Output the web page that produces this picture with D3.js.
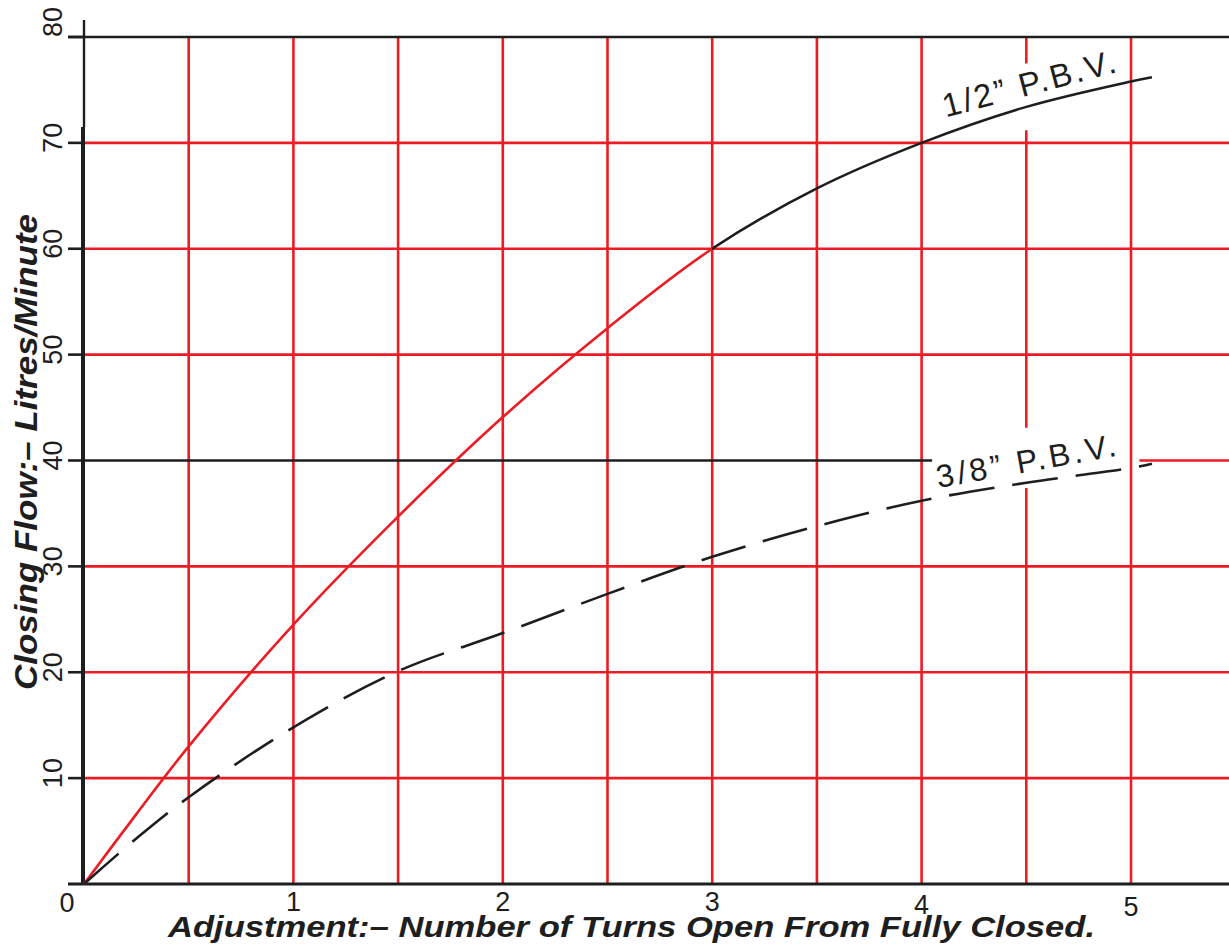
<!DOCTYPE html>
<html>
<head>
<meta charset="utf-8">
<script src="https://cdn.jsdelivr.net/npm/d3@7"></script>
<style>
  html, body { margin: 0; padding: 0; background: #fff; }
  svg { display: block; }
</style>
</head>
<body>
<script>
// turns open vs closing flow (litres/minute)
const turns = [0, 0.25, 0.5, 1, 1.5, 2, 2.5, 3, 3.5, 4, 4.5, 5, 5.1];
const halfInch = [0, 6.6, 13, 24.5, 34.7, 44.1, 52.5, 60, 65.7, 70, 73.4, 75.8, 76.2];
const threeEighths = [0, 4.3, 8.2, 14.8, 20.1, 23.7, 27.4, 30.9, 33.8, 36.2, 37.9, 39.3, 39.7];

const xTicks = [0, 1, 2, 3, 4, 5];
const yTicks = [10, 20, 30, 40, 50, 60, 70, 80];
const xGrid = [0.5, 1, 1.5, 2, 2.5, 3, 3.5, 4, 4.5, 5];
const yGridRed = [10, 20, 30, 50, 60, 70];

const xTitle = "Adjustment:\u2013 Number of Turns Open From Fully Closed.";
const yTitle = "Closing Flow:\u2013 Litres/Minute";
const seriesNames = ["1/2\u201d P.B.V.", "3/8\u201d P.B.V."];

const W = 1229, H = 945;
const RED = "#ec1c24", INK = "#1e1e1e";

const x = d3.scaleLinear().domain([0, 5]).range([84, 1131]);
const y = d3.scaleLinear().domain([0, 80]).range([884, 37]);

const svg = d3.select("body").append("svg")
  .attr("width", W).attr("height", H);

const defs = svg.append("defs");
defs.append("clipPath").attr("id", "leftPart")
  .append("rect").attr("x", 0).attr("y", 0).attr("width", x(3)).attr("height", H);
defs.append("clipPath").attr("id", "rightPart")
  .append("rect").attr("x", x(3)).attr("y", 0).attr("width", W - x(3)).attr("height", H);

const grid = svg.append("g").attr("stroke-width", 2.6).attr("fill", "none");

// vertical red grid, the 4.5 line is broken where the labels sit
const vGaps = { 4.5: [[77.5, 71.2], [43.1, 37.4]] };
xGrid.forEach(v => {
  let spans = [[80, 0]];
  (vGaps[v] || []).forEach(([a, b]) => {
    const last = spans.pop();
    spans.push([last[0], a], [b, last[1]]);
  });
  spans.forEach(([a, b]) => {
    grid.append("line")
      .attr("x1", x(v)).attr("x2", x(v))
      .attr("y1", y(a)).attr("y2", y(b))
      .attr("stroke", RED);
  });
});

// horizontal red grid
grid.selectAll(".hred")
  .data(yGridRed)
  .join("line")
  .attr("x1", x(0)).attr("x2", W)
  .attr("y1", d => y(d)).attr("y2", d => y(d))
  .attr("stroke", RED);

// 80 line black, 40 line black then red after the label
grid.append("line")
  .attr("x1", x(0) - 16).attr("x2", W)
  .attr("y1", y(80)).attr("y2", y(80))
  .attr("stroke", INK);
grid.append("line")
  .attr("x1", x(0)).attr("x2", x(4.05))
  .attr("y1", y(40)).attr("y2", y(40))
  .attr("stroke", INK);
grid.append("line")
  .attr("x1", x(5.04)).attr("x2", W)
  .attr("y1", y(40)).attr("y2", y(40))
  .attr("stroke", RED);

// axes
const axes = svg.append("g").attr("stroke", INK);
axes.append("line")
  .attr("x1", x(0)).attr("x2", x(0))
  .attr("y1", 20).attr("y2", y(71.5))
  .attr("stroke-width", 2.4);
axes.append("line")
  .attr("x1", x(0) - 1).attr("x2", x(0) - 1)
  .attr("y1", y(71.5)).attr("y2", y(0) + 1)
  .attr("stroke-width", 4);
axes.append("line")
  .attr("x1", x(0) - 16).attr("x2", W)
  .attr("y1", y(0)).attr("y2", y(0))
  .attr("stroke-width", 3.2);
axes.selectAll(".tick")
  .data(yTicks)
  .join("line")
  .attr("x1", x(0) - 16).attr("x2", x(0))
  .attr("y1", d => y(d)).attr("y2", d => y(d))
  .attr("stroke-width", 2.6);

// curves
const line = d3.line()
  .x(d => x(d[0]))
  .y(d => y(d[1]))
  .curve(d3.curveCatmullRom.alpha(0.5));

const half = turns.map((t, i) => [t, halfInch[i]]);
const eighth = turns.map((t, i) => [t, threeEighths[i]]);

svg.append("path")
  .attr("d", line(half))
  .attr("fill", "none").attr("stroke", RED).attr("stroke-width", 2.6)
  .attr("clip-path", "url(#leftPart)");
svg.append("path")
  .attr("d", line(half))
  .attr("fill", "none").attr("stroke", INK).attr("stroke-width", 2.6)
  .attr("clip-path", "url(#rightPart)");
svg.append("path")
  .attr("d", line(eighth))
  .attr("fill", "none").attr("stroke", INK).attr("stroke-width", 2.6)
  .attr("stroke-dasharray", "46 18");

// tick labels
const tickFont = "'Liberation Sans', Arial, sans-serif";
svg.append("g")
  .selectAll("text")
  .data(yTicks)
  .join("text")
  .attr("transform", d => `translate(62, ${d === 80 ? y(d) : y(d) - 5}) rotate(-90)`)
  .attr("text-anchor", d => d === 80 ? "start" : "middle")
  .attr("font-family", tickFont)
  .attr("font-size", 27)
  .attr("fill", INK)
  .text(d => d);

const xLabelDrop = { 0: 912, 1: 911, 2: 911, 3: 911, 4: 914, 5: 916 };
svg.append("g")
  .selectAll("text")
  .data(xTicks)
  .join("text")
  .attr("x", d => d === 0 ? x(0) - 17 : x(d))
  .attr("y", d => xLabelDrop[d])
  .attr("text-anchor", "middle")
  .attr("font-family", tickFont)
  .attr("font-size", 27)
  .attr("fill", INK)
  .text(d => d);

// axis titles
const titleFont = "'Liberation Sans', 'DejaVu Sans', sans-serif";
svg.append("text")
  .attr("x", 168).attr("y", 937)
  .attr("font-family", titleFont)
  .attr("font-style", "italic")
  .attr("font-weight", "bold")
  .attr("font-size", 30)
  .attr("textLength", 927)
  .attr("lengthAdjust", "spacingAndGlyphs")
  .attr("fill", INK)
  .text(xTitle);

svg.append("text")
  .attr("transform", "translate(37, 690) rotate(-90)")
  .attr("font-family", titleFont)
  .attr("font-style", "italic")
  .attr("font-weight", "bold")
  .attr("font-size", 32)
  .attr("textLength", 476)
  .attr("lengthAdjust", "spacingAndGlyphs")
  .attr("fill", INK)
  .text(yTitle);

// curve labels
const labels = [
  { name: seriesNames[0], t: 4.115, v: 72.4, angle: -14.8, len: 178, size: 33 },
  { name: seriesNames[1], t: 4.08, v: 37.4, angle: -10.2, len: 182, size: 32 }
];
svg.append("g")
  .selectAll("text")
  .data(labels)
  .join("text")
  .attr("transform", d => `translate(${x(d.t)}, ${y(d.v)}) rotate(${d.angle})`)
  .attr("font-family", tickFont)
  .attr("font-size", d => d.size)
  .attr("textLength", d => d.len)
  .attr("lengthAdjust", "spacing")
  .attr("fill", INK)
  .text(d => d.name);
</script>
</body>
</html>
